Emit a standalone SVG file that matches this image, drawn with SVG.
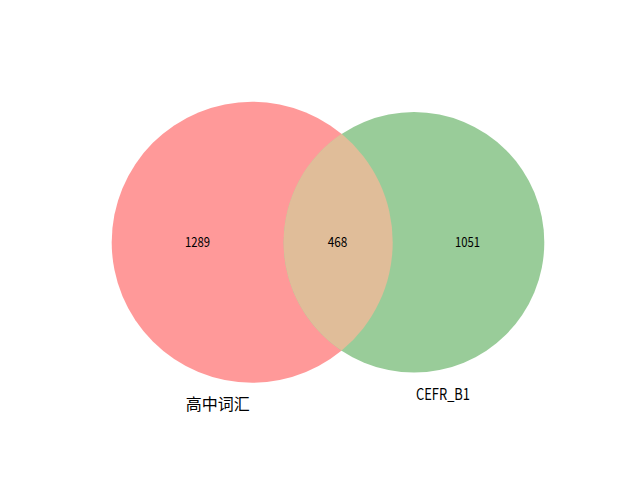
<svg xmlns="http://www.w3.org/2000/svg" width="640" height="480" viewBox="0 0 640 480">
<style>
.num{font-family:"Noto Sans CJK SC","DejaVu Sans",sans-serif;font-size:14px;fill:#000;text-anchor:middle}
.lab{font-family:"Noto Sans CJK SC","DejaVu Sans",sans-serif;font-size:16px;fill:#000;text-anchor:middle}
</style>
<rect width="640" height="480" fill="#fff"/>
<g id="set-a">
<circle cx="252.2" cy="242.2" r="140.5" fill="#FF9999"/>
</g>
<g id="set-b">
<circle cx="414" cy="242.3" r="130.3" fill="#99CC99"/>
</g>
<g id="overlap">
<path d="M341.6 133.8 A140.5 140.5 0 0 1 341.6 350.6 A130.3 130.3 0 0 1 341.6 133.8 Z" fill="#E0BD99"/>
</g>
<g id="connectors"></g>
<g id="labels">
<text class="num" x="197.5" y="246.7" textLength="25" lengthAdjust="spacingAndGlyphs">1289</text>
<text class="num" x="337.5" y="246.7" textLength="19.6" lengthAdjust="spacingAndGlyphs">468</text>
<text class="num" x="467.5" y="247.3" textLength="25" lengthAdjust="spacingAndGlyphs">1051</text>
<text class="lab" x="217.7" y="410">高中词汇</text>
<text class="lab" x="443" y="400" textLength="54" lengthAdjust="spacingAndGlyphs">CEFR_B1</text>
</g>
</svg>
